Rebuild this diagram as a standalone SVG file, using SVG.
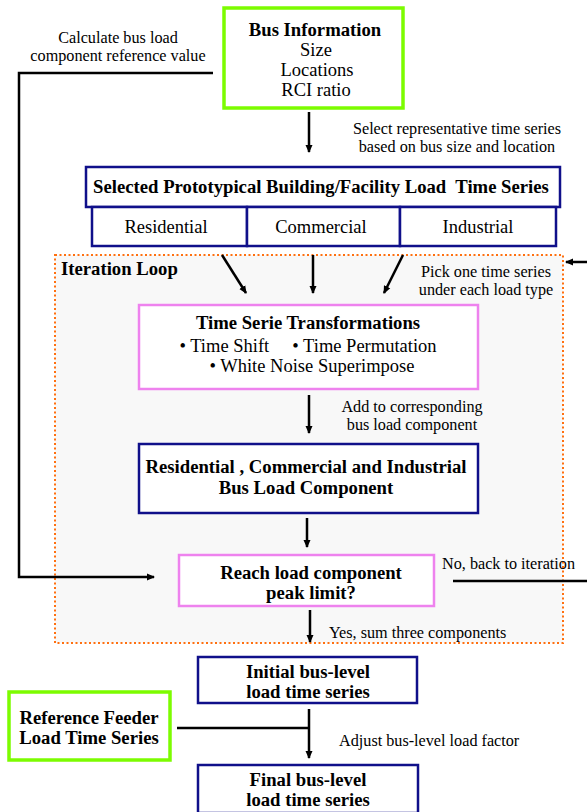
<svg xmlns="http://www.w3.org/2000/svg" width="587" height="812" viewBox="0 0 587 812">
<style>
text{font-family:"Liberation Serif","Times New Roman",serif;fill:#000}
.b{font-weight:bold;font-size:18.7px}
.r{font-size:18.5px}
.s{font-size:16.2px}
.green{fill:#fff;stroke:#7cfc00;stroke-width:3.5}
.blue{fill:#fff;stroke:#10108a;stroke-width:2.5}
.pink{fill:#fff;stroke:#ee82ee;stroke-width:2.5}
.ln{fill:none;stroke:#000;stroke-width:2.5}
</style>
<defs>
<marker id="ah" markerWidth="8" markerHeight="8" refX="7" refY="4" orient="auto" markerUnits="userSpaceOnUse">
<path d="M0,0.5 L8,4 L0,7.5 Z" fill="#000"/>
</marker>
</defs>
<rect width="587" height="812" fill="#fff"/>
<g id="loop">
<rect x="55" y="255" width="508" height="388" fill="#f8f8f8" stroke="#ff7010" stroke-width="2" stroke-dasharray="2,2.5"/>
<text x="61" y="275" class="b">Iteration Loop</text>
</g>
<g id="busInfo">
<rect x="224" y="8" width="179" height="100" class="green"/>
<text x="315" y="36" class="b" text-anchor="middle">Bus Information</text>
<text x="316" y="56" class="r" text-anchor="middle">Size</text>
<text x="317" y="76" class="r" text-anchor="middle">Locations</text>
<text x="316" y="96" class="r" text-anchor="middle">RCI ratio</text>
</g>
<g id="selected">
<rect x="86" y="167" width="474" height="40" class="blue"/>
<text x="321" y="193" class="b" text-anchor="middle" xml:space="preserve">Selected Prototypical Building/Facility Load  Time Series</text>
</g>
<g id="residential">
<rect x="92" y="207" width="155" height="39" class="blue"/>
<text x="166" y="233" class="r" text-anchor="middle">Residential</text>
</g>
<g id="commercial">
<rect x="247" y="207" width="153" height="39" class="blue"/>
<text x="321" y="233" class="r" text-anchor="middle">Commercial</text>
</g>
<g id="industrial">
<rect x="400" y="207" width="156" height="39" class="blue"/>
<text x="478" y="233" class="r" text-anchor="middle">Industrial</text>
</g>
<g id="transform">
<rect x="139" y="305" width="339" height="84" class="pink"/>
<text x="308" y="329" class="b" text-anchor="middle">Time Serie Transformations</text>
<text x="308" y="352" class="r" text-anchor="middle" xml:space="preserve">• Time Shift     • Time Permutation</text>
<text x="312" y="372" class="r" text-anchor="middle">• White Noise Superimpose</text>
</g>
<g id="component">
<rect x="139" y="444" width="339" height="69" class="blue"/>
<text x="306" y="473" class="b" text-anchor="middle">Residential , Commercial and Industrial</text>
<text x="306" y="494" class="b" text-anchor="middle">Bus Load Component</text>
</g>
<g id="reach">
<rect x="179" y="555" width="255" height="51" class="pink"/>
<text x="311" y="579" class="b" text-anchor="middle">Reach load component</text>
<text x="311" y="599" class="b" text-anchor="middle">peak limit?</text>
</g>
<g id="initial">
<rect x="198" y="657" width="219" height="46" class="blue"/>
<text x="308" y="678" class="b" text-anchor="middle">Initial bus-level</text>
<text x="308" y="698" class="b" text-anchor="middle">load time series</text>
</g>
<g id="reference">
<rect x="9" y="692" width="161" height="68" class="green"/>
<text x="89" y="724" class="b" text-anchor="middle">Reference Feeder</text>
<text x="89" y="744" class="b" text-anchor="middle">Load Time Series</text>
</g>
<g id="final">
<rect x="198" y="765" width="220" height="48" class="blue"/>
<text x="308" y="786" class="b" text-anchor="middle">Final bus-level</text>
<text x="308" y="806" class="b" text-anchor="middle">load time series</text>
</g>
<g id="connectors">
<line x1="309" y1="112" x2="309" y2="152" class="ln" marker-end="url(#ah)"/>
<line x1="222" y1="255" x2="246" y2="293" class="ln" marker-end="url(#ah)"/>
<line x1="313" y1="255" x2="313" y2="293" class="ln" marker-end="url(#ah)"/>
<line x1="403" y1="255" x2="384" y2="293" class="ln" marker-end="url(#ah)"/>
<line x1="587" y1="262" x2="566" y2="262" class="ln" marker-end="url(#ah)"/>
<line x1="309" y1="395" x2="309" y2="433" class="ln" marker-end="url(#ah)"/>
<line x1="307" y1="518" x2="307" y2="547" class="ln" marker-end="url(#ah)"/>
<polyline points="213,73 19,73 19,577 154,577" class="ln" marker-end="url(#ah)"/>
<line x1="453" y1="581" x2="587" y2="581" class="ln"/>
<line x1="310" y1="610" x2="310" y2="642" class="ln" marker-end="url(#ah)"/>
<line x1="177" y1="728" x2="309" y2="728" class="ln"/>
<line x1="309" y1="709" x2="309" y2="758" class="ln" marker-end="url(#ah)"/>
</g>
<g id="labels">
<text x="118" y="43" class="s" text-anchor="middle">Calculate bus load</text>
<text x="118" y="61" class="s" text-anchor="middle">component reference value</text>
<text x="457" y="134" class="s" text-anchor="middle">Select representative time series</text>
<text x="457" y="152" class="s" text-anchor="middle">based on bus size and location</text>
<text x="486" y="277" class="s" text-anchor="middle">Pick one time series</text>
<text x="486" y="295" class="s" text-anchor="middle">under each load type</text>
<text x="412" y="412" class="s" text-anchor="middle">Add to corresponding</text>
<text x="412" y="430" class="s" text-anchor="middle">bus load component</text>
<text x="442" y="569" class="s">No, back to iteration</text>
<text x="329" y="638" class="s">Yes, sum three components</text>
<text x="339" y="746" class="s">Adjust bus-level load factor</text>
</g>
</svg>
